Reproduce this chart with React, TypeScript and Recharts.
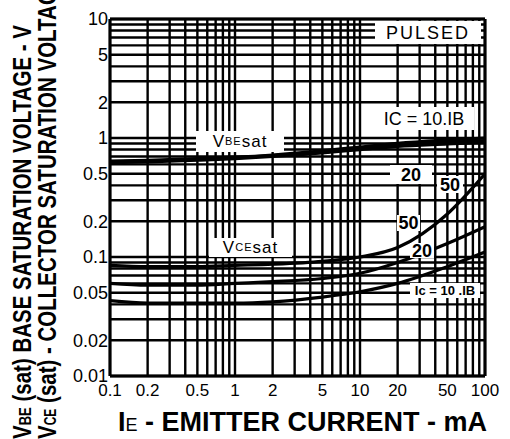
import React from 'react';
import { LineChart, Line, XAxis, YAxis, CartesianGrid, ReferenceLine } from 'recharts';

// emitter current, mA
const emitterCurrent = [0.1, 0.2, 0.5, 1, 2, 5, 10, 20, 50, 100];

// VBE(sat), V, for IC = 10, 20, 50 x IB
const vbeSat10 = [0.64, 0.65, 0.67, 0.69, 0.72, 0.78, 0.84, 0.9, 0.96, 1.0];
const vbeSat20 = [0.63, 0.64, 0.66, 0.68, 0.71, 0.76, 0.82, 0.87, 0.92, 0.95];
const vbeSat50 = [0.62, 0.63, 0.65, 0.67, 0.7, 0.75, 0.8, 0.85, 0.89, 0.92];

// VCE(sat), V, for IC = 10, 20, 50 x IB
const vceSat10 = [0.043, 0.041, 0.041, 0.041, 0.042, 0.046, 0.051, 0.06, 0.083, 0.11];
const vceSat20 = [0.06, 0.058, 0.058, 0.06, 0.062, 0.066, 0.073, 0.09, 0.13, 0.18];
const vceSat50 = [0.085, 0.083, 0.083, 0.085, 0.087, 0.092, 0.1, 0.12, 0.23, 0.5];

const xGrid = [
  0.1, 0.2, 0.3, 0.4, 0.5, 0.6, 0.7, 0.8, 0.9,
  1, 2, 3, 4, 5, 6, 7, 8, 9,
  10, 20, 30, 40, 50, 60, 70, 80, 90, 100,
];
const yGrid = [
  0.01, 0.02, 0.03, 0.04, 0.05, 0.06, 0.07, 0.08, 0.09,
  0.1, 0.2, 0.3, 0.4, 0.5, 0.6, 0.7, 0.8, 0.9,
  1, 2, 3, 4, 5, 6, 7, 8, 9, 10,
];
const xLabels = [0.1, 0.2, 0.5, 1, 2, 5, 10, 20, 50, 100];
const yLabels = [0.01, 0.02, 0.05, 0.1, 0.2, 0.5, 1, 2, 5, 10];

const data = emitterCurrent.map((ie, i) => ({
  ie,
  vbe10: vbeSat10[i],
  vbe20: vbeSat20[i],
  vbe50: vbeSat50[i],
  vce10: vceSat10[i],
  vce20: vceSat20[i],
  vce50: vceSat50[i],
}));

const font = '"Liberation Sans", Arial, Helvetica, sans-serif';
const seriesKeys = ['vbe10', 'vbe20', 'vbe50', 'vce10', 'vce20', 'vce50'];

function Tag({ left, top, width, height, children, style }: any) {
  return (
    <div
      style={{
        position: 'absolute',
        left,
        top,
        width,
        height,
        background: '#fff',
        display: 'flex',
        alignItems: 'center',
        justifyContent: 'center',
        whiteSpace: 'nowrap',
        color: '#000',
        fontFamily: font,
        lineHeight: 1,
        ...style,
      }}
    >
      {children}
    </div>
  );
}

export default function App() {
  return (
    <div
      style={{
        position: 'absolute',
        left: 0,
        top: 0,
        width: 510,
        height: 439,
        overflow: 'hidden',
        background: '#fff',
        fontFamily: font,
      }}
    >
      <LineChart
        width={510}
        height={439}
        data={data}
        margin={{ top: 19, right: 25, bottom: 0, left: 0 }}
      >
        <CartesianGrid stroke="#000" strokeWidth={2.4} />
        <XAxis
          dataKey="ie"
          type="number"
          scale="log"
          domain={[0.1, 100]}
          ticks={xGrid}
          interval={0}
          allowDataOverflow
          height={63}
          tickLine={false}
          axisLine={{ stroke: '#000', strokeWidth: 3 }}
          tickFormatter={(v: number) => (xLabels.includes(v) ? String(v) : '')}
          tick={{ fill: '#000', fontSize: 17, fontFamily: font }}
        />
        <YAxis
          type="number"
          scale="log"
          domain={[0.01, 10]}
          ticks={yGrid}
          interval={0}
          allowDataOverflow
          width={110}
          tickLine={false}
          tickSize={0}
          tickMargin={2}
          axisLine={{ stroke: '#000', strokeWidth: 3 }}
          tickFormatter={(v: number) => (yLabels.includes(v) ? String(v) : '')}
          tick={{ fill: '#000', fontSize: 18, fontFamily: font }}
        />
        <ReferenceLine x={100} stroke="#000" strokeWidth={3} />
        <ReferenceLine y={10} stroke="#000" strokeWidth={3} />
        {seriesKeys.map((k) => (
          <Line
            key={k}
            dataKey={k}
            type="monotone"
            stroke="#000"
            strokeWidth={3.2}
            dot={false}
            isAnimationActive={false}
          />
        ))}
      </LineChart>

      {/* in-plot labels */}
      <Tag left={375} top={21} width={106} height={23} style={{ fontSize: 18, letterSpacing: 2 }}>
        PULSED
      </Tag>
      <Tag left={374} top={107} width={100} height={23} style={{ fontSize: 18 }}>
        IC = 10.IB
      </Tag>
      <Tag left={196} top={131} width={88} height={21} style={{ fontSize: 17, letterSpacing: 1 }}>
        V<span style={{ fontSize: 11 }}>BE</span>sat
      </Tag>
      <Tag left={390} top={165} width={42} height={19} style={{ fontSize: 18, fontWeight: 'bold' }}>
        20
      </Tag>
      <Tag left={437} top={176} width={26} height={17} style={{ fontSize: 18, fontWeight: 'bold' }}>
        50
      </Tag>
      <Tag left={397} top={215} width={23} height={16} style={{ fontSize: 18, fontWeight: 'bold' }}>
        50
      </Tag>
      <Tag left={410} top={243} width={24} height={15} style={{ fontSize: 18, fontWeight: 'bold' }}>
        20
      </Tag>
      <Tag left={209} top={238} width={83} height={19} style={{ fontSize: 17, letterSpacing: 1 }}>
        V<span style={{ fontSize: 11 }}>CE</span>sat
      </Tag>
      <Tag left={410} top={283} width={70} height={15} style={{ fontSize: 13, fontWeight: 'bold' }}>
        Ic = 10 .IB
      </Tag>

      {/* axis titles */}
      <div
        style={{
          position: 'absolute',
          left: 118,
          top: 409,
          fontSize: 27,
          fontWeight: 'bold',
          lineHeight: 1,
          whiteSpace: 'nowrap',
          color: '#000',
        }}
      >
        I<span style={{ fontSize: 18, fontWeight: 'normal' }}>E</span> - EMITTER CURRENT - mA
      </div>
      <div
        style={{
          position: 'absolute',
          left: 9,
          top: 439,
          fontSize: 20.5,
          fontWeight: 'bold',
          lineHeight: 1,
          whiteSpace: 'nowrap',
          color: '#000',
          transformOrigin: 'left top',
          transform: 'rotate(-90deg) scaleY(1.3)',
        }}
      >
        V<span style={{ fontSize: 13 }}>BE</span> (sat) BASE SATURATION VOLTAGE - V
      </div>
      <div
        style={{
          position: 'absolute',
          left: 34,
          top: 439,
          fontSize: 20.5,
          fontWeight: 'bold',
          lineHeight: 1,
          whiteSpace: 'nowrap',
          color: '#000',
          transformOrigin: 'left top',
          transform: 'rotate(-90deg) scaleY(1.3)',
        }}
      >
        V<span style={{ fontSize: 12 }}>CE</span> (sat) - COLLECTOR SATURATION VOLTAGE
      </div>
    </div>
  );
}
